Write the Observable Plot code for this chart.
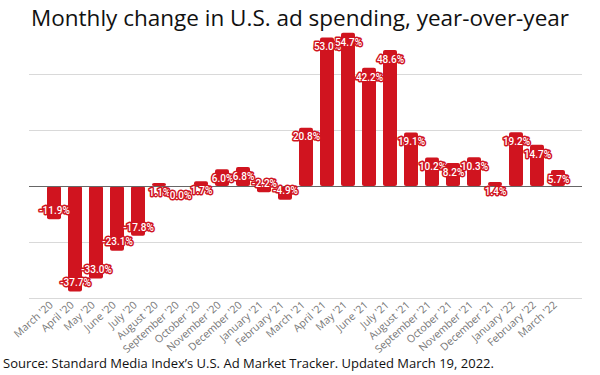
<!DOCTYPE html>
<html>
<head>
<meta charset="utf-8">
<script src="https://cdn.jsdelivr.net/npm/d3@7"></script>
<script src="https://cdn.jsdelivr.net/npm/@observablehq/plot@0.6"></script>
<style>
  html, body { margin: 0; padding: 0; background: #fff; width: 600px; height: 375px; overflow: hidden; position: relative; }
  #title { height: 30px; box-sizing: border-box; padding-top: 8px; font-family: "Open Sans", sans-serif; font-size: 22.5px; line-height: 20px; text-align: center; color: #111; white-space: nowrap; }
  #caption { position: absolute; left: 3px; top: 353px; font-family: "Open Sans", sans-serif; font-size: 13px; line-height: 20px; color: #111; white-space: nowrap; }
  #chart svg { display: block; }
</style>
</head>
<body>
<div id="title">Monthly change in U.S. ad spending, year-over-year</div>
<div id="chart"></div>
<div id="caption">Source: Standard Media Index’s U.S. Ad Market Tracker. Updated March 19, 2022.</div>
<script>
const months = ["March '20","April '20","May '20","June '20","July '20","August '20","September '20","October '20","November '20","December '20","January '21","February '21","March '21","April '21","May '21","June '21","July '21","August '21","September '21","October '21","November '21","December '21","January '22","February '22","March '22"];
const values = [-11.9,-37.7,-33.0,-23.1,-17.8,1.1,0.0,1.7,6.0,6.8,-2.2,-4.9,20.8,53.0,54.7,42.2,48.6,19.1,10.2,8.2,10.3,1.4,19.2,14.7,5.7];
const gridTicks = [-40,-20,20,40];

const data = months.map((m, i) => ({month: m, value: values[i], label: values[i].toFixed(1) + "%"}));
const red = "#d0141f";

const chart = Plot.plot({
  width: 600,
  height: 326,
  marginTop: 2,
  marginBottom: 58,
  marginLeft: 29,
  marginRight: 18,
  style: {fontFamily: "'Open Sans', sans-serif", fontSize: "10.5px", color: "#777", overflow: "visible"},
  x: {domain: months, paddingInner: 0.35, paddingOuter: 0.42, label: null},
  y: {domain: [-40, 55], label: null},
  marks: [
    Plot.gridY(gridTicks, {stroke: "#d9d9d9", strokeOpacity: 1}),
    Plot.barY(data, {x: "month", y: "value", fill: red, rx: 2}),
    Plot.ruleY([0], {stroke: "#666", strokeWidth: 1}),
    Plot.text(data.filter(d => d.value >= 0), {x: "month", y: "value", text: "label", dy: 9, fill: "white", stroke: red, strokeWidth: 3, fontSize: 10, fontFamily: "Roboto, sans-serif", fontWeight: 500}),
    Plot.text(data.filter(d => d.value < 0), {x: "month", y: "value", text: "label", dy: -9, fill: "white", stroke: red, strokeWidth: 3, fontSize: 10, fontFamily: "Roboto, sans-serif", fontWeight: 500}),
    Plot.axisX({tickRotate: -42, tickSize: 0, tickPadding: 5, dx: -3, fill: "#777", label: null}),
    Plot.axisY({ticks: [], label: null})
  ]
});
document.getElementById("chart").appendChild(chart);
</script>
</body>
</html>
